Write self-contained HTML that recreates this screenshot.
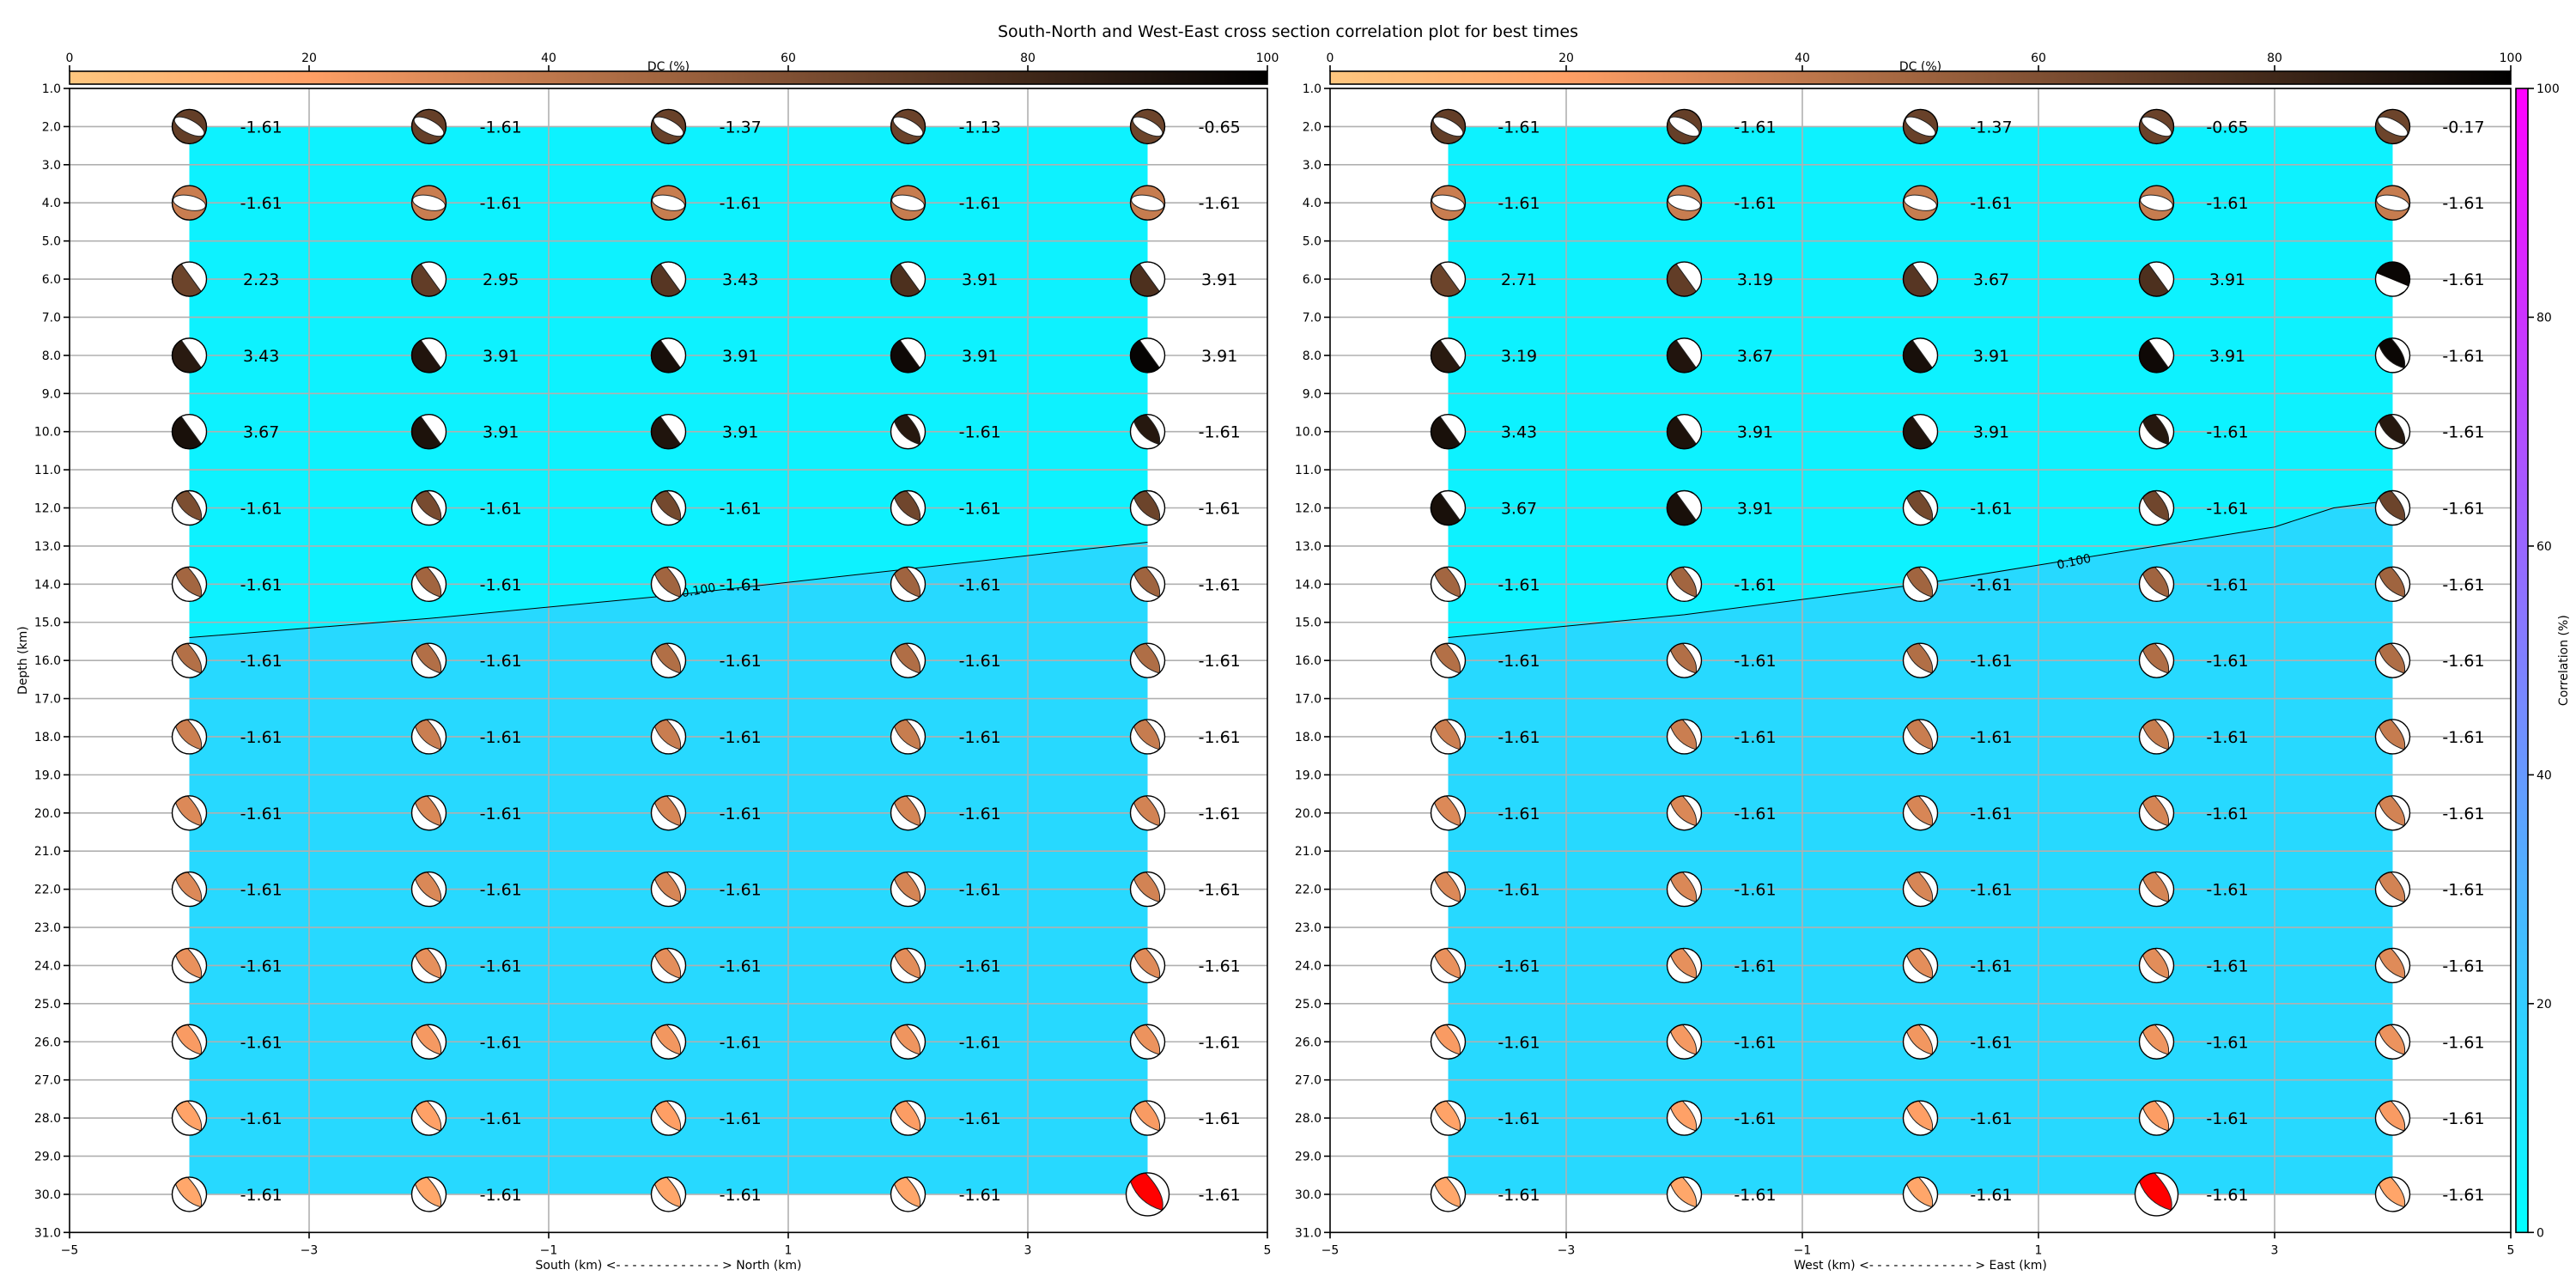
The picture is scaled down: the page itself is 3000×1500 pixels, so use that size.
<!DOCTYPE html>
<html><head><meta charset="utf-8">
<style>
html,body{margin:0;padding:0;background:#fff;}
svg{display:block;font-family:"DejaVu Sans","Liberation Sans",sans-serif;}
</style></head>
<body>
<svg id="s" xmlns="http://www.w3.org/2000/svg" width="3000" height="1500" viewBox="0 0 3000 1500"></svg>
<script>
const S=document.getElementById('s');
let h='';
h+='<defs>';
h+='<linearGradient id="cop" x1="0" x2="1" y1="0" y2="0">';
for(let i=0;i<=10;i++){h+=`<stop offset="${i/10}" stop-color="${cop(i*10)}"/>`;}
h+='</linearGradient>';
h+='<linearGradient id="cool" x1="0" x2="0" y1="1" y2="0"><stop offset="0" stop-color="#00ffff"/><stop offset="1" stop-color="#ff00ff"/></linearGradient>';
h+='</defs>';
function cop(d){const x=1-d/100;const r=Math.min(1,1.25*x),g=0.7812*x,b=0.4975*x;
 return 'rgb('+Math.round(r*255)+','+Math.round(g*255)+','+Math.round(b*255)+')';}
const Y0=103,DY=44.41;
function Y(d){return Y0+(d-1)*DY;}
const panels=[
 {x0:81,x1:1476,xl:'South (km) <- - - - - - - - - - - - - > North (km)',
  vals:[['-1.61','-1.61','-1.37','-1.13','-0.65'],['-1.61','-1.61','-1.61','-1.61','-1.61'],['2.23','2.95','3.43','3.91','3.91'],['3.43','3.91','3.91','3.91','3.91'],['3.67','3.91','3.91','-1.61','-1.61']],
  types:[['A','A','A','A','A'],['A2','A2','A2','A2','A2'],['B','B','B','B','B'],['B','B','B','B','B'],['B','B','B','C','C']],
  contour:[[-4,15.4],[-2,14.9],[0,14.3],[2,13.6],[4,12.9]],lab:[0.25,14.15,-10],red:4},
 {x0:1549,x1:2924,xl:'West (km) <- - - - - - - - - - - - - > East (km)',
  vals:[['-1.61','-1.61','-1.37','-0.65','-0.17'],['-1.61','-1.61','-1.61','-1.61','-1.61'],['2.71','3.19','3.67','3.91','-1.61'],['3.19','3.67','3.91','3.91','-1.61'],['3.43','3.91','3.91','-1.61','-1.61'],['3.67','3.91','-1.61','-1.61','-1.61']],
  types:[['A','A','A','A','A'],['A2','A2','A2','A2','A2'],['B','B','B','B','D'],['B','B','B','B','C'],['B','B','B','C','C'],['B','B','C','C','C']],
  contour:[[-4,15.4],[-2,14.8],[0,14.0],[2,13.0],[3,12.5],[3.5,12.0],[4,11.8]],lab:[1.3,13.4,-12],red:3}
];
const dc0=[69,37,66,87,92,61,49,44,36,31,31,27,22,18,16];
const dc4=[66,38,76,98,88,66,50,45,38,34,34,30,26,22,17];
function ball(cx,cy,r,t,col){
 let s='';
 const P=(x,y)=>(cx+x*r).toFixed(1)+','+(cy+y*r).toFixed(1);
 if(t=='A'||t=='A2'){
  const ang=t=='A'?28:12, ry=t=='A'?0.38:0.42;
  s+=`<circle cx="${cx}" cy="${cy}" r="${r}" fill="${col}"/>`;
  s+=`<ellipse cx="${cx}" cy="${cy}" rx="${r*0.96}" ry="${r*ry}" fill="#fff" stroke="#222" stroke-width="1" transform="rotate(${ang} ${cx} ${cy})"/>`;
 } else {
  s+=`<circle cx="${cx}" cy="${cy}" r="${r}" fill="#fff"/>`;
  if(t=='B'){
   const a1=Math.atan2(-0.88,-0.47),a2=Math.atan2(0.72,0.69);
   s+=`<path d="M${P(Math.cos(a1),Math.sin(a1))} A${r} ${r} 0 1 0 ${P(Math.cos(a2),Math.sin(a2))} Z" fill="${col}" stroke="#222" stroke-width="1"/>`;
  } else if(t=='D'){
   const a1=Math.atan2(-0.35,-0.94),a2=Math.atan2(0.42,0.91);
   s+=`<path d="M${P(Math.cos(a1),Math.sin(a1))} A${r} ${r} 0 1 1 ${P(Math.cos(a2),Math.sin(a2))} Z" fill="${col}"/>`;
   s+=`<path d="M${P(0.77,0.64)} A${r} ${r} 0 0 1 ${P(0.2,0.98)} Q${P(0.6,0.75)} ${P(0.77,0.64)} Z" fill="${col}"/>`;
  } else {
   s+=`<path d="M${P(-0.8,-0.6)} A${r} ${r} 0 0 1 ${P(-0.1,-0.995)} Q${P(0.88,0.05)} ${P(0.67,0.74)} Q${P(-0.42,0.42)} ${P(-0.8,-0.6)} Z" fill="${col}" stroke="#222" stroke-width="1"/>`;
  }
 }
 s+=`<circle cx="${cx}" cy="${cy}" r="${r}" fill="none" stroke="#000" stroke-width="1.4"/>`;
 return s;
}
panels.forEach((p,pi)=>{
 const sx=(p.x1-p.x0)/10, X=v=>p.x0+(v+5)*sx;
 h+=`<rect x="${X(-4)}" y="${Y(2)}" width="${X(4)-X(-4)}" height="${Y(30)-Y(2)}" fill="#27d9ff"/>`;
 let poly=`${X(-4)},${Y(2)} ${X(4)},${Y(2)} `;
 const cr=p.contour.slice().reverse();
 cr.forEach(c=>poly+=`${X(c[0]).toFixed(1)},${Y(c[1]).toFixed(1)} `);
 h+=`<polygon points="${poly}" fill="#0df2ff"/>`;
 for(let d=1;d<=31;d++) h+=`<line x1="${p.x0}" x2="${p.x1}" y1="${Y(d)}" y2="${Y(d)}" stroke="#b0b0b0" stroke-width="1.6"/>`;
 [-3,-1,1,3].forEach(v=>h+=`<line x1="${X(v)}" x2="${X(v)}" y1="${Y(1)}" y2="${Y(31)}" stroke="#b0b0b0" stroke-width="1.6"/>`);
 let pl='';p.contour.forEach(c=>pl+=`${X(c[0]).toFixed(1)},${Y(c[1]).toFixed(1)} `);
 h+=`<polyline points="${pl}" fill="none" stroke="#000" stroke-width="1"/>`;
 const L=p.lab;
 h+=`<text x="${X(L[0])}" y="${Y(L[1])+5}" font-size="14" text-anchor="middle" transform="rotate(${L[2]} ${X(L[0])} ${Y(L[1])})">0.100</text>`;
 for(let ri=0;ri<15;ri++){
  const d=2+ri*2;
  for(let c=0;c<5;c++){
   const xv=-4+2*c;
   let t=(p.types[ri]||[])[c]||'C';
   let v=(p.vals[ri]||[])[c]||'-1.61';
   let dc=dc0[ri]+(dc4[ri]-dc0[ri])*c/4;
   if(ri==2 && t=='B') dc=66+10*Math.min(c,3)/3;
   if(ri==5 && t=='B') dc=92;
   if(t=='C'&&ri==3) dc=97;
   if(t=='C'&&ri==4) dc=88;
   if(t=='D') dc=97;
   let col=cop(dc), r=20;
   if(ri==14 && c==p.red){col='#ff0000';r=25;}
   h+=ball(X(xv),Y(d),r,t,col);
   h+=`<text x="${X(xv+0.6)}" y="${Y(d)+7}" font-size="19" text-anchor="middle">${v}</text>`;
  }
 }
 h+=`<rect x="${p.x0}" y="${Y(1)}" width="${p.x1-p.x0}" height="${Y(31)-Y(1)}" fill="none" stroke="#000" stroke-width="1.6"/>`;
 for(let d=1;d<=31;d++){
  h+=`<line x1="${p.x0-7}" x2="${p.x0}" y1="${Y(d)}" y2="${Y(d)}" stroke="#000" stroke-width="1.6"/>`;
  h+=`<text x="${p.x0-10}" y="${Y(d)+5}" font-size="14" text-anchor="end">${d}.0</text>`;
 }
 [-5,-3,-1,1,3,5].forEach(v=>{
  h+=`<line x1="${X(v)}" x2="${X(v)}" y1="${Y(31)}" y2="${Y(31)+7}" stroke="#000" stroke-width="1.6"/>`;
  h+=`<text x="${X(v)}" y="${Y(31)+25}" font-size="14" text-anchor="middle">${v<0?'\u2212'+(-v):v}</text>`;
 });
 h+=`<text x="${(p.x0+p.x1)/2}" y="1478" font-size="14" text-anchor="middle">${p.xl.replace(/</g,'&lt;').replace(/>/g,'&gt;')}</text>`;
 h+=`<rect x="${p.x0}" y="83" width="${p.x1-p.x0}" height="15" fill="url(#cop)" stroke="#000" stroke-width="1.6"/>`;
 for(let k=0;k<=5;k++){
  const xx=p.x0+(p.x1-p.x0)*k/5;
  h+=`<line x1="${xx}" x2="${xx}" y1="76" y2="83" stroke="#000" stroke-width="1.6"/>`;
  h+=`<text x="${xx}" y="72" font-size="14" text-anchor="middle">${k*20}</text>`;
 }
 h+=`<text x="${(p.x0+p.x1)/2}" y="82" font-size="14" text-anchor="middle">DC (%)</text>`;
});
h+=`<text x="1500" y="43" font-size="19" text-anchor="middle">South-North and West-East cross section correlation plot for best times</text>`;
h+=`<text x="0" y="0" font-size="14" text-anchor="middle" transform="translate(31 ${(Y(1)+Y(31))/2}) rotate(-90)">Depth (km)</text>`;
h+=`<rect x="2930" y="${Y(1)}" width="14" height="${Y(31)-Y(1)}" fill="url(#cool)" stroke="#000" stroke-width="1.6"/>`;
for(let k=0;k<=5;k++){
 const yy=Y(31)-(Y(31)-Y(1))*k/5;
 h+=`<line x1="2944" x2="2951" y1="${yy}" y2="${yy}" stroke="#000" stroke-width="1.6"/>`;
 h+=`<text x="2954" y="${yy+5}" font-size="14">${k*20}</text>`;
}
h+=`<text x="0" y="0" font-size="14" text-anchor="middle" transform="translate(2990 ${(Y(1)+Y(31))/2}) rotate(-90)">Correlation (%)</text>`;
S.innerHTML=h;
</script>
</body></html>
